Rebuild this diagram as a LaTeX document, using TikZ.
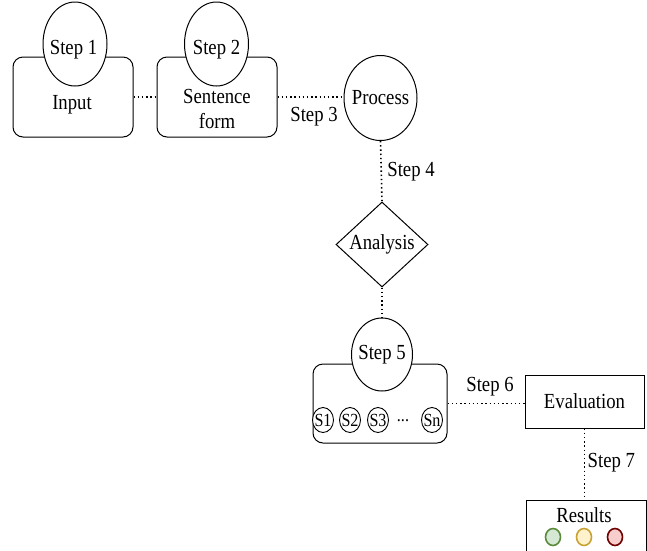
\documentclass[tikz,border=0pt]{standalone}
\usepackage{fontspec}
\setmainfont{Liberation Serif}
\usetikzlibrary{shapes.geometric}
\definecolor{gfill}{HTML}{D5E8D4}\definecolor{gdraw}{HTML}{5A8A3A}
\definecolor{yfill}{HTML}{FFF2CC}\definecolor{ydraw}{HTML}{C8A232}
\definecolor{rfill}{HTML}{F8CECC}\definecolor{rdraw}{HTML}{6F0000}
\newcommand\tx[1]{\scalebox{0.87}[1]{#1}}
\newcommand\zb[1]{\makebox[0pt]{\tx{#1}}}
\tikzset{
  every node/.style={font=\fontsize{21.5}{24}\selectfont},
  rbox/.style={draw, line width=1pt, rounded corners=10pt, inner sep=0pt, align=center},
  sbox/.style={draw, line width=1pt, inner sep=0pt, align=center},
  stepell/.style={draw, line width=1pt, ellipse, fill=white, inner sep=0pt},
  smallell/.style={draw, line width=0.9pt, ellipse, fill=white, inner sep=0pt, minimum width=21pt, minimum height=25pt, font=\fontsize{18.5}{20}\selectfont},
  dia/.style={draw, line width=1pt, diamond, inner sep=0pt},
  link/.style={line width=1.6pt, dash pattern=on 1.4pt off 2.8pt},
  lbl/.style={inner sep=0pt},
  dot/.style={ellipse, line width=1.6pt, inner sep=0pt, minimum width=15pt, minimum height=17pt}
}
\begin{document}
\begin{tikzpicture}[x=1pt,y=-1pt]
\useasboundingbox (0,0) rectangle (647,550);
\clip (0,0) rectangle (647,550);
% boxes
\node[rbox, minimum width=120pt, minimum height=80pt] (in1) at (73,97) {};
\node (it) at (72,105) {\tx{Input}};
\node[stepell, minimum width=64pt, minimum height=84pt] (s1) at (75,44) {};
\node (t1) at (73.5,50) {\zb{Step 1}};
\node[rbox, minimum width=120pt, minimum height=80pt] (in2) at (217,97) {};
\node (sf) at (217,96) {\zb{Sentence}};
\node (fm) at (217,121) {\zb{form}};
\node[stepell, minimum width=64pt, minimum height=84pt] (s2) at (216.5,44) {};
\node (t2) at (216.5,50) {\zb{Step 2}};
\node[stepell, minimum width=73pt, minimum height=85pt] (proc) at (380.5,98) {\zb{Process}};
\node[dia, minimum width=92pt, minimum height=85pt] (ana) at (382,244.5) {\zb{Analysis}};
\node[rbox, minimum width=134pt, minimum height=79pt] (box5) at (380,403.5) {};
\node[stepell, minimum width=61pt, minimum height=73pt] (s5) at (382,354.5) {\zb{Step 5}};
\node[smallell] (c1) at (323,420) {\zb{S1}};
\node[smallell] (c2) at (350,420) {\zb{S2}};
\node[smallell] (c3) at (378,420) {\zb{S3}};
\node[lbl, font=\fontsize{18.5}{20}\selectfont] (cd) at (403,421) {\tx{...}};
\node[smallell] (cn) at (432,420) {\zb{Sn}};
\node[sbox, minimum width=119pt, minimum height=53pt] (eval) at (584.5,401.5) {\tx{Evaluation}};
\node[sbox, minimum width=120pt, minimum height=60pt, anchor=north] (res) at (586,500) {};
\node (rt) at (584,515) {\tx{Results}};
\node[dot, draw=gdraw, fill=gfill] (g) at (553,537) {};
\node[dot, draw=ydraw, fill=yfill] (y) at (584,537) {};
\node[dot, draw=rdraw, fill=rfill] (r) at (615,537) {};
% links
\draw[link] (in1.east) -- (in2.west);
\draw[link] (in2.east) -- (in2.east -| proc.west);
\draw[link] (proc.south) -- (ana.north);
\draw[link] (ana.south) -- (s5.north);
\draw[link] (box5.east) -- (box5.east -| eval.west);
\draw[link] (eval.south) -- (eval.south |- res.north);
% labels
\node[lbl] (l3) at (314,117) {\tx{Step 3}};
\node[lbl] (l4) at (411,172) {\tx{Step 4}};
\node[lbl] (l6) at (490,387) {\tx{Step 6}};
\node[lbl, anchor=west] (l7) at (587.5,463) {\tx{Step 7}};
\end{tikzpicture}
\end{document}
